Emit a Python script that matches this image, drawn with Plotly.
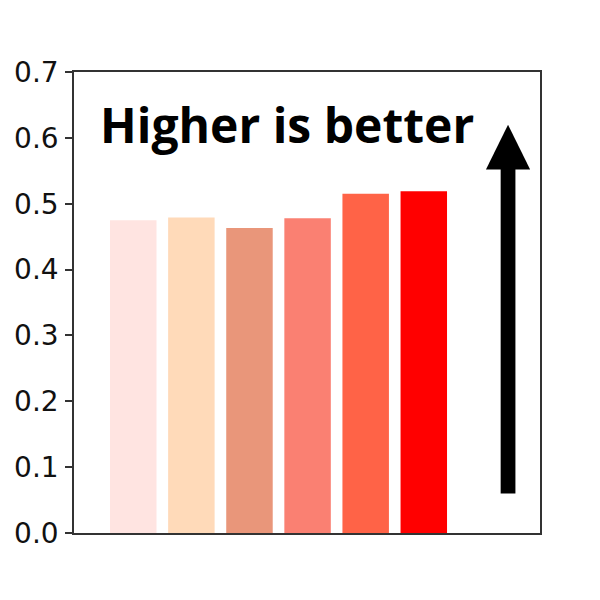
import plotly.graph_objects as go

categories = ["A", "B", "C", "D", "E", "F"]
values = [0.475, 0.479, 0.463, 0.478, 0.515, 0.519]
colors = ["#FFE4E1", "#FFDAB9", "#E9967A", "#FA8072", "#FF6347", "#FF0000"]
tick_vals = [0.0, 0.1, 0.2, 0.3, 0.4, 0.5, 0.6, 0.7]
tick_text = ["0.0", "0.1", "0.2", "0.3", "0.4", "0.5", "0.6", "0.7"]
label_text = "Higher is better"

# arrow geometry (data units)
arrow_x = 6.45
arrow_y0 = 0.06
arrow_y1 = 0.62
arrow_head_base = 0.552
shaft_half = 0.127
head_half = 0.38

xs = list(range(len(categories)))

fig = go.Figure()
fig.add_trace(go.Bar(x=xs, y=values, marker=dict(color=colors, line=dict(width=0)),
                     width=0.8, showlegend=False, hoverinfo="skip"))

fig.add_shape(type="rect", xref="x", yref="y",
              x0=arrow_x - shaft_half, x1=arrow_x + shaft_half,
              y0=arrow_y0, y1=arrow_head_base + 0.002,
              fillcolor="black", line=dict(width=0))
fig.add_shape(type="path", xref="x", yref="y",
              path=f"M {arrow_x - head_half} {arrow_head_base} L {arrow_x + head_half} {arrow_head_base} L {arrow_x} {arrow_y1} Z",
              fillcolor="black", line=dict(width=0))

fig.add_annotation(x=2.64, y=0.62, xref="x", yref="y", text=f"<b>{label_text}</b>",
                   showarrow=False, xanchor="center", yanchor="middle",
                   font=dict(family="Open Sans", size=48, color="black"))

axis_common = dict(showline=True, linecolor="#333333", linewidth=1.5, mirror=True,
                   showgrid=False, zeroline=False)

fig.update_layout(
    width=600, height=600,
    margin=dict(l=74, r=60, t=72, b=67, autoexpand=False),
    paper_bgcolor="white", plot_bgcolor="white",
    xaxis=dict(range=[-1.02, 7.0], showticklabels=False, ticks="", **axis_common),
    yaxis=dict(range=[0, 0.7], tickvals=tick_vals, ticktext=tick_text,
               ticks="outside", ticklen=7, tickwidth=1.5, tickcolor="#333333",
               ticklabelstandoff=1, automargin=False,
               tickfont=dict(family="DejaVu Sans", size=28, color="#111111"),
               **axis_common),
)

fig.write_html("out.html", config={"displayModeBar": False},
               post_script="document.body.style.margin='0';")
